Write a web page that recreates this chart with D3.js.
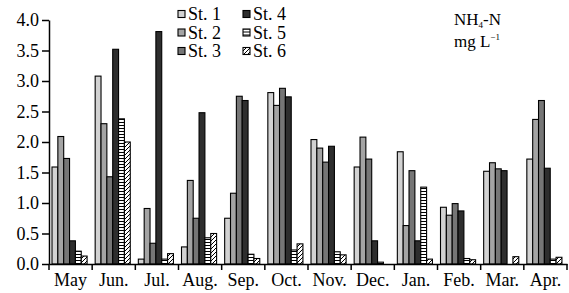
<!DOCTYPE html>
<html>
<head>
<meta charset="utf-8">
<script src="https://cdn.jsdelivr.net/npm/d3@7"></script>
<style>
  body { margin: 0; background: #fff; }
  svg text { font-family: "Liberation Serif", "Times New Roman", serif; fill: #000; }
  .axis path, .axis line { stroke: #000; stroke-width: 1.5; }
  .axis text { font-size: 18px; }
  .bar { stroke: #000; stroke-width: 1.1; }
</style>
</head>
<body>
<div id="container"></div>
<script>
// datos (NH4-N, mg/L)
var months = ["May", "Jun.", "Jul.", "Aug.", "Sep.", "Oct.", "Nov.", "Dec.", "Jan.", "Feb.", "Mar.", "Apr."];
var stations = ["St. 1", "St. 2", "St. 3", "St. 4", "St. 5", "St. 6"];
var st1 = [1.59, 3.08, 0.08, 0.28, 0.75, 2.81, 2.04, 1.59, 1.84, 0.93, 1.52, 1.72];
var st2 = [2.09, 2.30, 0.91, 1.37, 1.16, 2.60, 1.90, 2.08, 0.63, 0.80, 1.66, 2.37];
var st3 = [1.73, 1.43, 0.34, 0.75, 2.75, 2.88, 1.67, 1.72, 1.53, 0.99, 1.56, 2.68];
var st4 = [0.38, 3.52, 3.81, 2.48, 2.68, 2.74, 1.93, 0.38, 0.38, 0.87, 1.53, 1.57];
var st5 = [0.21, 2.38, 0.08, 0.43, 0.16, 0.23, 0.20, 0.03, 1.26, 0.09, 0.00, 0.08];
var st6 = [0.13, 2.00, 0.17, 0.50, 0.09, 0.33, 0.15, 0.00, 0.08, 0.07, 0.12, 0.11];
var yTicks = [0, 0.5, 1, 1.5, 2, 2.5, 3, 3.5, 4];

var series = [st1, st2, st3, st4, st5, st6];

var w = 569, h = 293;
var margin = { top: 20, right: 2, bottom: 29, left: 49 };

var svg = d3.select("#container").append("svg")
    .attr("width", w)
    .attr("height", h);

// patrones para St. 5 y St. 6
var defs = svg.append("defs");
var pH = defs.append("pattern")
    .attr("id", "hstripe")
    .attr("patternUnits", "userSpaceOnUse")
    .attr("width", 6).attr("height", 3);
pH.append("rect").attr("width", 6).attr("height", 3).attr("fill", "#fff");
pH.append("rect").attr("y", 2).attr("width", 6).attr("height", 1).attr("fill", "#000");

var pD = defs.append("pattern")
    .attr("id", "dstripe")
    .attr("patternUnits", "userSpaceOnUse")
    .attr("width", 4).attr("height", 4);
pD.append("rect").attr("width", 4).attr("height", 4).attr("fill", "#fff");
pD.append("path").attr("d", "M0,4 L4,0 M-1,1 L1,-1 M3,5 L5,3")
    .attr("stroke", "#000").attr("stroke-width", 1);

var fills = ["#d2d2d2", "#a4a4a4", "#767676", "#2e2e2e", "url(#hstripe)", "url(#dstripe)"];

var x = d3.scaleBand()
    .domain(months)
    .range([margin.left, 567]);

var y = d3.scaleLinear()
    .domain([0, 4])
    .range([264, margin.top]);

var groupPad = 3;
var bw = 5.85;

// barras
var groups = svg.append("g").attr("class", "bars")
    .selectAll("g")
    .data(series)
    .enter()
    .append("g")
    .attr("fill", function (d, i) { return fills[i]; });

groups.each(function (vals, si) {
    d3.select(this).selectAll("rect")
        .data(vals)
        .enter()
        .append("rect")
        .attr("class", "bar")
        .attr("x", function (d, i) { return x(months[i]) + groupPad + si * bw; })
        .attr("y", function (d) { return y(d); })
        .attr("width", bw)
        .attr("height", function (d) { return y(0) - y(d); })
        .style("display", function (d) { return d > 0 ? null : "none"; });
});

// eje y
svg.append("g")
    .attr("class", "axis")
    .attr("transform", "translate(" + margin.left + ",0)")
    .call(d3.axisLeft(y).tickValues(yTicks).tickFormat(d3.format(".1f"))
        .tickSize(7).tickSizeOuter(0).tickPadding(3));

// eje x
var xa = svg.append("g")
    .attr("class", "axis")
    .attr("transform", "translate(0," + y(0) + ")")
    .call(d3.axisBottom(x).tickSize(0).tickSizeOuter(0).tickPadding(9));
xa.selectAll(".tick text").attr("dy", "0.71em");

var bounds = months.map(function (m) { return x(m); }).concat([x.range()[1]]);
xa.selectAll(".bound")
    .data(bounds)
    .enter()
    .append("line")
    .attr("class", "bound")
    .attr("x1", function (d) { return d; })
    .attr("x2", function (d) { return d; })
    .attr("y1", 0)
    .attr("y2", 6);

// leyenda
var legend = svg.append("g").attr("class", "legend");
var items = legend.selectAll("g")
    .data(stations)
    .enter()
    .append("g")
    .attr("transform", function (d, i) {
        var col = Math.floor(i / 3), row = i % 3;
        return "translate(" + (178 + col * 65) + "," + (14 + row * 18.5) + ")";
    });
items.append("rect")
    .attr("x", 0).attr("y", -3.5)
    .attr("width", 7).attr("height", 7)
    .attr("fill", function (d, i) { return fills[i]; })
    .attr("stroke", "#000").attr("stroke-width", 1.1);
items.append("text")
    .attr("x", 10)
    .attr("y", 6)
    .style("font-size", "18px")
    .text(function (d) { return d; });

// unidades
var u1 = svg.append("text").attr("x", 454).attr("y", 25).style("font-size", "17px");
u1.append("tspan").text("NH");
u1.append("tspan").attr("dy", 3).style("font-size", "9px").text("4");
u1.append("tspan").attr("dy", -3).text("-N");
var u2 = svg.append("text").attr("x", 454).attr("y", 47).style("font-size", "17px");
u2.append("tspan").text("mg L");
u2.append("tspan").attr("dy", -7).style("font-size", "9px").text("\u22121");
</script>
</body>
</html>
